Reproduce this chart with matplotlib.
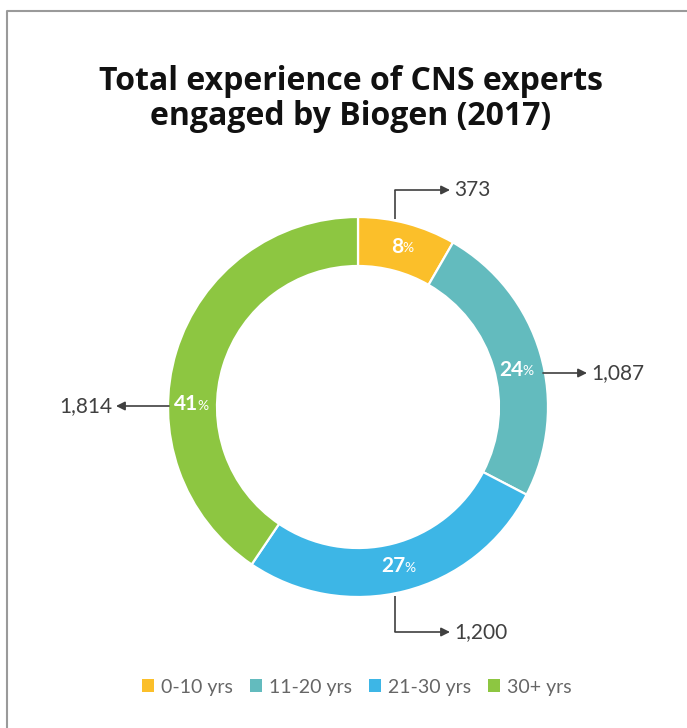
import numpy as np
import matplotlib
matplotlib.use("Agg")
import matplotlib.pyplot as plt
from matplotlib.lines import Line2D
from matplotlib.patches import Patch

# data
categories = ["0-10 yrs", "11-20 yrs", "21-30 yrs", "30+ yrs"]
counts = [373, 1087, 1200, 1814]
colors = ["#FBBF2A", "#63BBBE", "#3DB6E6", "#8DC641"]
title = "Total experience of CNS experts\nengaged by Biogen (2017)"

W, H = 687, 728
fig = plt.figure(figsize=(W / 100, H / 100), dpi=100)
ax = fig.add_axes([0, 0, 1, 1])

### donut, in pixel units (y measured from top -> flip)
cx, cy, R, ring = 358, H - 407, 190, 49
ax.pie(counts, colors=colors, startangle=90, counterclock=False,
       center=(cx, cy), radius=R,
       wedgeprops=dict(width=ring, edgecolor="white", linewidth=1.6))
ax.set_xlim(0, W)
ax.set_ylim(0, H)
ax.set_aspect("equal")
ax.axis("off")

### percentage labels (hand-placed angles, like the original)
total = sum(counts)
pcts = [round(100 * c / total) for c in counts]
label_ang = [76, 13, -75, 179]
label_r = 165
for p, a in zip(pcts, label_ang):
    x = cx + label_r * np.cos(np.radians(a))
    y = cy + label_r * np.sin(np.radians(a))
    ax.text(x + 5, y, str(p), ha="right", va="center", color="white",
            fontsize=15, fontweight="bold", family="Lato")
    ax.text(x + 4, y - 1.5, "%", ha="left", va="center", color="white",
            fontsize=10, family="Lato")

### value call-outs with arrows
arrow = dict(arrowstyle="-|>", color="#404040", lw=1.2, mutation_scale=13,
             shrinkA=0, shrinkB=0)
txt = dict(fontsize=15, color="#404040", family="Lato", va="center")

def callout(pts, value, ha="left"):
    xs = [p[0] for p in pts]
    ys = [H - p[1] for p in pts]
    if len(pts) > 2:
        ax.plot(xs[:-1], ys[:-1], color="#404040", lw=1.2, solid_capstyle="butt")
    ax.annotate("", xy=(xs[-1], ys[-1]), xytext=(xs[-2], ys[-2]), arrowprops=arrow)
    off = 4 if ha == "left" else -4
    ax.text(xs[-1] + off, ys[-1], f"{value:,}", ha=ha, **txt)

callout([(395, 219), (395, 190), (450, 190)], counts[0])
callout([(543, 373), (587, 373)], counts[1])
callout([(395, 596), (395, 632), (450, 632)], counts[2])
callout([(169, 406), (116, 406)], counts[3], ha="right")

### title
fig.text(351 / W, 1 - 99 / H, title, ha="center", va="center", fontsize=23,
         fontweight="bold", family="Open Sans", color="#111111", linespacing=1.1)

### legend
handles = [Patch(facecolor=c, edgecolor="none") for c in colors]
fig.legend(handles, categories, loc="center", bbox_to_anchor=(357 / W, 1 - 687 / H),
           ncol=4, frameon=False, handlelength=0.6, handleheight=0.6,
           handletextpad=0.35, columnspacing=0.9,
           prop=dict(family="Lato", size=14), labelcolor="#666666")

### frame lines (left and top only)
fig.add_artist(Line2D([7 / W, 7 / W, 1], [0, 1 - 11 / H, 1 - 11 / H],
                      transform=fig.transFigure, color="#9a9a9a", lw=1.5))

fig.savefig("out.png", dpi=100)
